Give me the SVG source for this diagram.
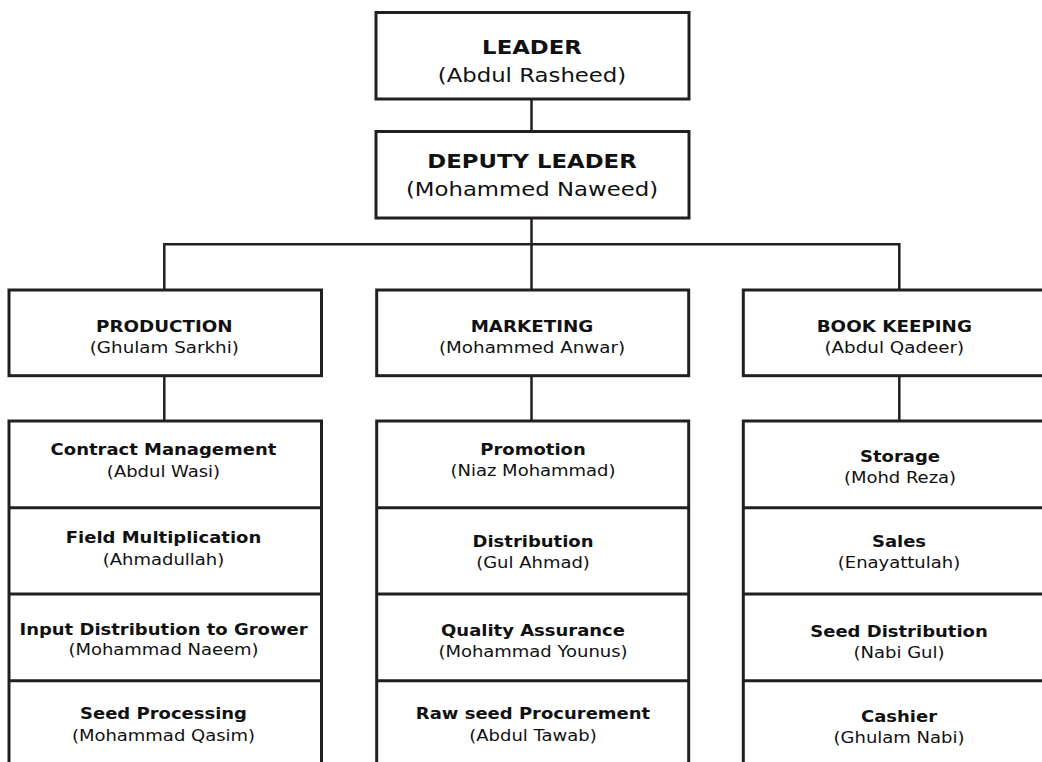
<svg xmlns="http://www.w3.org/2000/svg" width="1042" height="762" viewBox="0 0 1042 762">
<style>
.box{fill:#fff;stroke:#231f20;stroke-width:3}
.div{stroke:#231f20;stroke-width:3;fill:none}
.con{stroke:#231f20;stroke-width:2.5;fill:none}
text{font-family:"DejaVu Sans",Verdana,sans-serif;text-anchor:middle;fill:#111}
.h1{font-size:20px;font-weight:bold}
.n1{font-size:20px}
.h2{font-size:15px;font-weight:bold}
.n2{font-size:15px}
</style>
<rect width="1042" height="762" fill="#fff"/>
<g id="connectors">
<line class="con" x1="531.5" y1="99" x2="531.5" y2="131.5"/>
<line class="con" x1="531.5" y1="218" x2="531.5" y2="290"/>
<polyline class="con" points="164.3,290 164.3,244.3 899.3,244.3 899.3,290"/>
<line class="con" x1="164.3" y1="375.7" x2="164.3" y2="421"/>
<line class="con" x1="531.5" y1="375.7" x2="531.5" y2="421"/>
<line class="con" x1="899.3" y1="375.7" x2="899.3" y2="421"/>
</g>
<g id="leader">
<rect class="box" x="376" y="12.5" width="313" height="86.5"/>
<text class="h1" transform="translate(532 54) scale(1.14 1)">LEADER</text>
<text class="n1" transform="translate(532 81.5) scale(1.14 1)">(Abdul Rasheed)</text>
</g>
<g id="deputy">
<rect class="box" x="376" y="131.5" width="313" height="86.5"/>
<text class="h1" transform="translate(532 168.3) scale(1.14 1)">DEPUTY LEADER</text>
<text class="n1" transform="translate(532 196) scale(1.14 1)">(Mohammed Naweed)</text>
</g>
<g id="production">
<rect class="box" x="9" y="290" width="312.5" height="85.7"/>
<text class="h2" transform="translate(164.3 331.7) scale(1.22 1)">PRODUCTION</text>
<text class="n2" transform="translate(164.3 352.7) scale(1.22 1)">(Ghulam Sarkhi)</text>
</g>
<g id="marketing">
<rect class="box" x="376.7" y="290" width="312" height="85.7"/>
<text class="h2" transform="translate(532 331.7) scale(1.22 1)">MARKETING</text>
<text class="n2" transform="translate(532 352.7) scale(1.22 1)">(Mohammed Anwar)</text>
</g>
<g id="bookkeeping">
<rect class="box" x="743.3" y="290" width="312" height="85.7"/>
<text class="h2" transform="translate(894.3 331.7) scale(1.22 1)">BOOK KEEPING</text>
<text class="n2" transform="translate(894.3 352.7) scale(1.22 1)">(Abdul Qadeer)</text>
</g>
<g id="production-units">
<rect class="box" x="9" y="421" width="312.5" height="360"/>
<line class="div" x1="9" y1="507.7" x2="321.5" y2="507.7"/>
<line class="div" x1="9" y1="594" x2="321.5" y2="594"/>
<line class="div" x1="9" y1="680.7" x2="321.5" y2="680.7"/>
<g id="contract-management">
<text class="h2" transform="translate(163.5 455) scale(1.2 1)">Contract Management</text>
<text class="n2" transform="translate(163.5 476.7) scale(1.2 1)">(Abdul Wasi)</text>
</g>
<g id="field-multiplication">
<text class="h2" transform="translate(163.5 543.3) scale(1.2 1)">Field Multiplication</text>
<text class="n2" transform="translate(163.5 565) scale(1.2 1)">(Ahmadullah)</text>
</g>
<g id="input-distribution">
<text class="h2" transform="translate(163.5 635) scale(1.2 1)">Input Distribution to Grower</text>
<text class="n2" transform="translate(163.5 655) scale(1.2 1)">(Mohammad Naeem)</text>
</g>
<g id="seed-processing">
<text class="h2" transform="translate(163.5 719) scale(1.2 1)">Seed Processing</text>
<text class="n2" transform="translate(163.5 740.7) scale(1.2 1)">(Mohammad Qasim)</text>
</g>
</g>
<g id="marketing-units">
<rect class="box" x="376.7" y="421" width="312" height="360"/>
<line class="div" x1="376.7" y1="507.7" x2="688.7" y2="507.7"/>
<line class="div" x1="376.7" y1="594" x2="688.7" y2="594"/>
<line class="div" x1="376.7" y1="680.7" x2="688.7" y2="680.7"/>
<g id="promotion">
<text class="h2" transform="translate(533 455) scale(1.2 1)">Promotion</text>
<text class="n2" transform="translate(533 476) scale(1.2 1)">(Niaz Mohammad)</text>
</g>
<g id="distribution">
<text class="h2" transform="translate(533 547.3) scale(1.2 1)">Distribution</text>
<text class="n2" transform="translate(533 568.3) scale(1.2 1)">(Gul Ahmad)</text>
</g>
<g id="quality-assurance">
<text class="h2" transform="translate(533 636) scale(1.2 1)">Quality Assurance</text>
<text class="n2" transform="translate(533 657.3) scale(1.2 1)">(Mohammad Younus)</text>
</g>
<g id="raw-seed-procurement">
<text class="h2" transform="translate(533 719.3) scale(1.2 1)">Raw seed Procurement</text>
<text class="n2" transform="translate(533 740.7) scale(1.2 1)">(Abdul Tawab)</text>
</g>
</g>
<g id="bookkeeping-units">
<rect class="box" x="743.3" y="421" width="312" height="360"/>
<line class="div" x1="743.3" y1="507.7" x2="1055" y2="507.7"/>
<line class="div" x1="743.3" y1="594" x2="1055" y2="594"/>
<line class="div" x1="743.3" y1="680.7" x2="1055" y2="680.7"/>
<g id="storage">
<text class="h2" transform="translate(900 461.7) scale(1.2 1)">Storage</text>
<text class="n2" transform="translate(900 482.7) scale(1.2 1)">(Mohd Reza)</text>
</g>
<g id="sales">
<text class="h2" transform="translate(899 547.3) scale(1.2 1)">Sales</text>
<text class="n2" transform="translate(899 568.3) scale(1.2 1)">(Enayattulah)</text>
</g>
<g id="seed-distribution">
<text class="h2" transform="translate(899 637.3) scale(1.2 1)">Seed Distribution</text>
<text class="n2" transform="translate(899 658.3) scale(1.2 1)">(Nabi Gul)</text>
</g>
<g id="cashier">
<text class="h2" transform="translate(899 721.7) scale(1.2 1)">Cashier</text>
<text class="n2" transform="translate(899 742.7) scale(1.2 1)">(Ghulam Nabi)</text>
</g>
</g>
</svg>
